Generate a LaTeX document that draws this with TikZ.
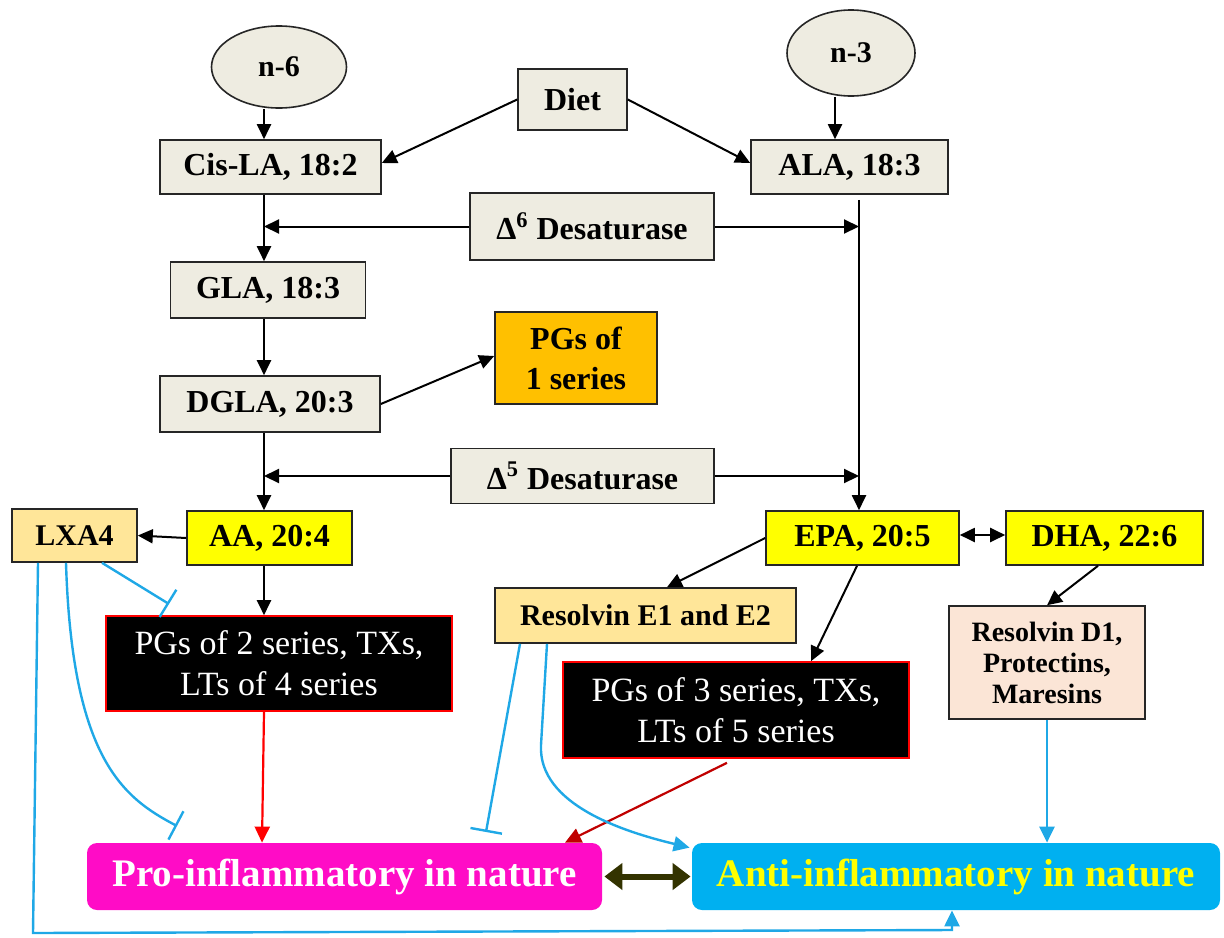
\documentclass[tikz,border=0pt]{standalone}
\usepackage{fontspec}
\setmainfont{Liberation Serif}
\usetikzlibrary{arrows.meta,calc,shapes.geometric}
\definecolor{beige}{HTML}{EEECE1}
\definecolor{boxline}{HTML}{262626}
\definecolor{yel}{HTML}{FFFF00}
\definecolor{orangeC}{HTML}{FFC000}
\definecolor{lxa}{HTML}{FFE699}
\definecolor{resd}{HTML}{FBE5D6}
\definecolor{mag}{HTML}{FF0CC6}
\definecolor{cyanC}{HTML}{00B0F0}
\definecolor{blueL}{HTML}{1FA8E6}
\definecolor{darkred}{HTML}{C00000}
\definecolor{olivedark}{HTML}{333300}
\begin{document}
\begin{tikzpicture}[x=0.5pt,y=-0.5pt,
  sz/.style 2 args={minimum width=#1*0.5pt, minimum height=#2*0.5pt},
  box/.style={draw=boxline, line width=0.8pt, fill=beige, inner sep=0pt, align=center,
    font=\fontsize{16}{20}\selectfont\bfseries},
  smallbox/.style={box, font=\fontsize{15}{18}\selectfont\bfseries},
  ell/.style={ellipse, draw=boxline, line width=0.8pt, fill=beige, inner sep=0pt,
    font=\fontsize{15}{18}\selectfont\bfseries},
  blk/.style={draw=red, line width=0.8pt, fill=black, text=white, inner sep=0pt, align=center,
    font=\fontsize{17}{20.5}\selectfont},
  big/.style={rounded corners=5pt, inner sep=0pt, align=center,
    font=\fontsize{19.5}{23}\selectfont\bfseries},
  arr/.style={line width=1pt, black, -{Triangle[length=7.5pt,width=7pt]}},
  darr/.style={line width=1pt, black, {Triangle[length=7.5pt,width=7pt]}-{Triangle[length=7.5pt,width=7pt]}},
  barr/.style={line width=1.2pt, blueL, -{Triangle[length=8pt,width=7.5pt]}},
  binh/.style={line width=1.2pt, blueL, -{Bar[width=16pt,line width=1.2pt]}},
  rarr/.style={line width=1.1pt, #1, -{Triangle[length=8pt,width=7.5pt]}},
]
\useasboundingbox (0,0) rectangle (1224,937);

% nodes
\node[ell,sz={135}{82}] (n6) at (279,67) {n-6};
\node[ell,sz={128}{86}] (n3) at (851,53) {n-3};
\node[box,sz={109}{61}] (Diet) at (572.5,99.5) {Diet};
\node[box,sz={221}{54}] (CisLA) at (270.5,167) {Cis-LA, 18:2};
\node[box,sz={197}{54}] (ALA) at (849.5,167) {ALA, 18:3};
\node[box,sz={244}{67}] (D6) at (592,226.5) {Δ\textsuperscript{6} Desaturase};
\node[box,sz={195}{56}] (GLA) at (268,290) {GLA, 18:3};
\node[box,sz={220}{56}] (DGLA) at (270,404) {DGLA, 20:3};
\node[box,fill=orangeC,sz={162}{92}] (PGs1) at (576,358) {PGs of\\1 series};
\node[box,sz={263}{55}] (D5) at (582.5,476) {Δ\textsuperscript{5} Desaturase};
\node[smallbox,fill=lxa,sz={125}{53}] (LXA4) at (74.5,535.5) {LXA4};
\node[box,fill=yel,sz={165}{54}] (AA) at (269.5,538) {AA, 20:4};
\node[box,fill=yel,sz={193}{54}] (EPA) at (862.5,538) {EPA, 20:5};
\node[box,fill=yel,sz={197}{54}] (DHA) at (1104.5,538) {DHA, 22:6};
\node[smallbox,fill=lxa,sz={301}{55}] (ResE) at (645.5,615.5) {Resolvin E1 and E2};
\node[blk,sz={346}{95}] (PGs2) at (279,663.5) {PGs of 2 series, TXs,\\LTs of 4 series};
\node[blk,sz={346}{96}] (PGs3) at (736,710) {PGs of 3 series, TXs,\\LTs of 5 series};
\node[box,fill=resd,sz={196}{113},font=\fontsize{14}{15.5}\selectfont\bfseries] (ResD) at (1047,662.5) {Resolvin D1,\\Protectins,\\Maresins};
\node[big,fill=mag,text=white,sz={515}{67}] (Pro) at (344.5,876.5) {Pro-inflammatory in nature};
\node[big,fill=cyanC,text=yel,sz={528}{67}] (Anti) at (956,876.5) {Anti-inflammatory in nature};

% free ends
\coordinate (t1) at (169,604);
\coordinate (t2) at (177,826);
\coordinate (t3) at (486,832);

% black connectors
\draw[arr] (n6.south -| 264,0) -- (CisLA.north -| 264,0);
\draw[arr] (n3.south -| 835,0) -- (ALA.north -| 835,0);
\draw[arr] (Diet.west) -- ([yshift=2pt]CisLA.east);
\draw[arr] (Diet.east) -- ([yshift=2pt]ALA.west);
\draw[arr] (CisLA.south -| 264,0) -- (GLA.north -| 264,0);
\draw[arr] (D6.west) -- (D6.west -| 264,0);
\draw[arr] (D6.east) -- (D6.east -| 859,0);
\draw[arr] ([yshift=-2.5pt]ALA.south -| 859,0) -- (EPA.north -| 859,0);
\draw[arr] (GLA.south -| 264,0) -- (DGLA.north -| 264,0);
\draw[arr] (DGLA.east) -- ([yshift=1pt]PGs1.west);
\draw[arr] (DGLA.south -| 264,0) -- (AA.north -| 264,0);
\draw[arr] (D5.west) -- (D5.west -| 264,0);
\draw[arr] (D5.east) -- (D5.east -| 859,0);
\draw[arr] (AA.west) -- (LXA4.east);
\draw[arr] (AA.south -| 264,0) -- (PGs2.north -| 264,0);
\draw[darr] ([yshift=1.5pt]EPA.east) -- ([yshift=1.5pt]DHA.west);
\draw[arr] (EPA.west) -- (ResE.north -| 667,0);
\draw[arr] (EPA.south -| 857,0) -- (PGs3.north -| 811,0);
\draw[arr] (DHA.south -| 1098,0) -- (ResD.north);

% red connectors
\draw[rarr=red] (PGs2.south -| 264,0) -- (Pro.north -| 262,0);
\draw[rarr=darkred] ([yshift=-2pt]PGs3.south -| 727,0) -- (Pro.north -| 565,0);

% pro <-> anti
\draw[line width=3pt, olivedark, {Triangle[length=9pt,width=13pt]}-{Triangle[length=9pt,width=13pt]}]
  ([xshift=1pt]Pro.east) -- ([xshift=-0.5pt]Anti.west);

% blue connectors
\draw[binh] (LXA4.south -| 102,0) -- (t1);
\draw[binh] (LXA4.south -| 66,0) .. controls (72,760) and (124,798) .. (t2);
\draw[barr] (LXA4.south -| 38,0) -- (33,933) -- (952,930) -- (Anti.south -| 952,0);
\draw[binh] (ResE.south -| 520,0) -- (t3);
\draw[barr] (ResE.south -| 547,0) -- (541,745) .. controls (538,805) and (625,832) .. ($(Anti.north west)+(-2,5)$);
\draw[barr] (ResD.south) -- (Anti.north -| ResD.south);
\end{tikzpicture}
\end{document}
